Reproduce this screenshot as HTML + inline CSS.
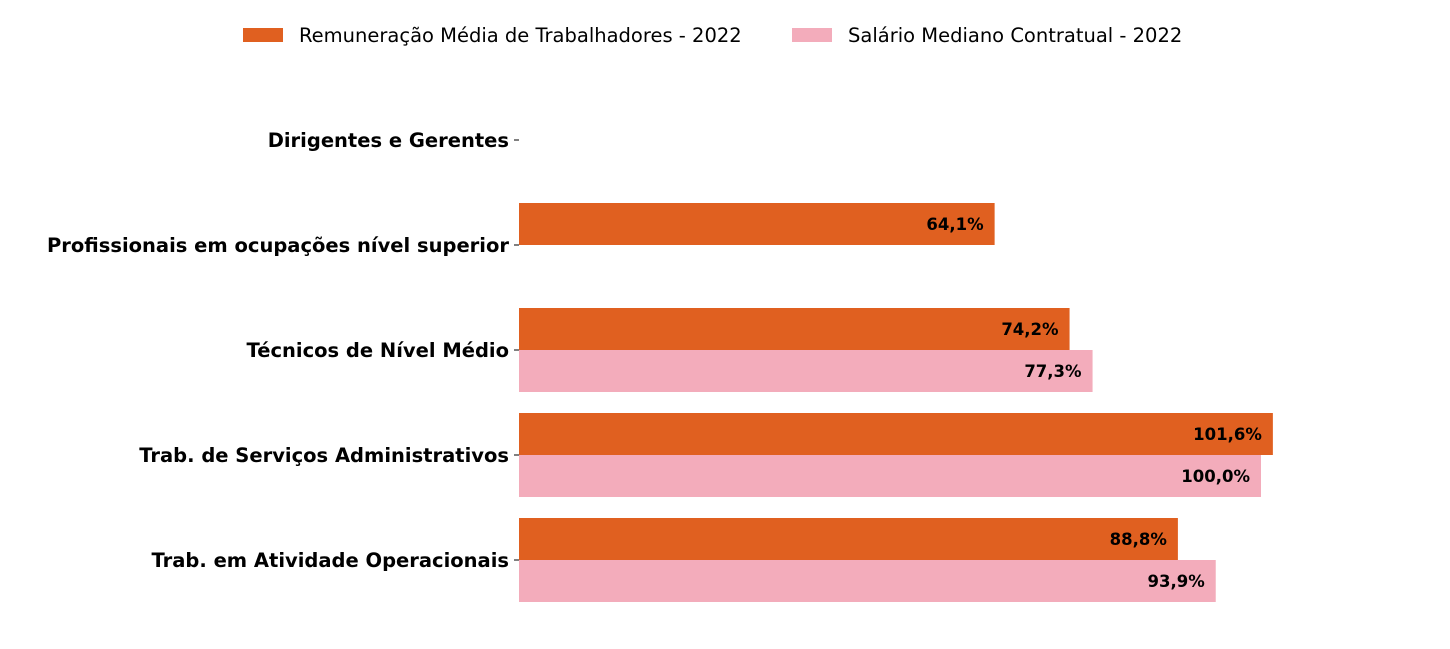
<!DOCTYPE html>
<html><head><meta charset="utf-8"><style>
body{margin:0;background:#fff;}
svg text{font-family:"DejaVu Sans","Liberation Sans",sans-serif;}
</style></head><body>
<svg id="chart" width="1450" height="644" xmlns="http://www.w3.org/2000/svg">
<g>
<rect x="243" y="28" width="40" height="14" fill="#e06020"/>
<text x="299" y="42" font-size="19.5">Remuneração Média de Trabalhadores - 2022</text>
<rect x="792" y="28" width="40" height="14" fill="#f3acbb"/>
<text x="848" y="42" font-size="19.5">Salário Mediano Contratual - 2022</text>
</g>
<g id="plot"></g>
</svg>
<script>
const categories=["Dirigentes e Gerentes","Profissionais em ocupações nível superior","Técnicos de Nível Médio","Trab. de Serviços Administrativos","Trab. em Atividade Operacionais"];
const remuneracao=[null,64.1,74.2,101.6,88.8];
const salario=[null,null,77.3,100.0,93.9];
const x0=519, pxPer=7.42, yStart=140, band=105, bh=42;
const xs=v=>x0+v*pxPer;
const ys=i=>yStart+i*band;
const g=document.getElementById('plot');
const NS="http://www.w3.org/2000/svg";
function mk(t,a){const e=document.createElementNS(NS,t);for(const k in a)e.setAttribute(k,a[k]);g.appendChild(e);return e;}
const fmt=v=>v.toFixed(1).replace('.',',')+'%';
categories.forEach((c,i)=>{
  const y=ys(i);
  const tk=mk('line',{x1:514,x2:519,y1:y,y2:y,stroke:'#000','stroke-width':1});
  
  
  const t=mk('text',{x:509,y:y+7,'text-anchor':'end','font-size':19.5,'font-weight':'bold'});
  t.textContent=c;
  
  
  [[remuneracao,'#e06020',y-bh,'bar-remuneracao'],[salario,'#f3acbb',y,'bar-salario']].forEach(([arr,col,top,nm])=>{
    const v=arr[i]; if(v==null) return;
    const r=mk('rect',{x:x0,y:top,width:xs(v)-x0,height:bh,fill:col});
    
    
    const l=mk('text',{x:xs(v)-11,y:top+bh/2+6,'text-anchor':'end','font-size':16.5,'font-weight':'bold'});
    l.textContent=fmt(v);
    
    
  });
});
</script>
</body></html>
